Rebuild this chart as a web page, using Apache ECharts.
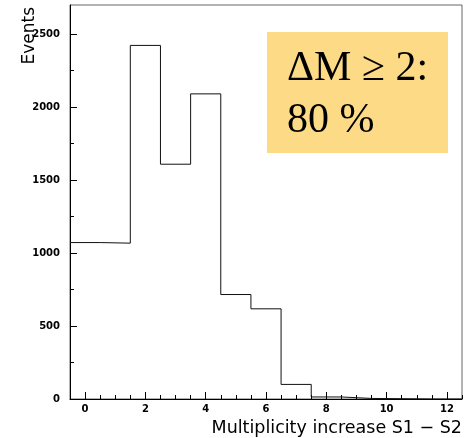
<!DOCTYPE html>
<html>
<head>
<meta charset="utf-8">
<script src="https://cdn.jsdelivr.net/npm/echarts@6/dist/echarts.min.js"></script>
<style>
  html, body { margin: 0; padding: 0; background: #fff; }
  #chart { width: 476px; height: 438px; }
</style>
</head>
<body>
<div id="chart"></div>
<script>
// histogram bins (multiplicity increase) and counts
const bins = [0, 1, 2, 3, 4, 5, 6, 7, 8, 9, 10, 11, 12];
const counts = [1072, 1068, 2423, 1609, 2091, 716, 618, 100, 14, 4, 2, 0, 0];
const xMajorTicks = [0, 2, 4, 6, 8, 10, 12];
const yMajorTicks = [0, 500, 1000, 1500, 2000, 2500];

// step points at bin edges
const stepData = bins.map((b, i) => [b - 0.5, counts[i]]);
stepData.push([bins[bins.length - 1] + 0.5, counts[counts.length - 1]]);

const xMinor = [];
for (let v = -0.5; v <= 12.5; v += 0.5) xMinor.push(v);
const yMinor = [];
for (let v = 0; v <= 2500; v += 250) yMinor.push(v);

const labelStyle = {
  fontFamily: "DejaVu Sans",
  fontWeight: "bold",
  fontSize: 10,
  color: "#000",
  formatter: (v) => String(v),
};

const chart = echarts.init(document.getElementById("chart"));
chart.setOption({
  animation: false,
  grid: {
    left: 70, right: 14, top: 5, bottom: 39,
    show: true, borderColor: "#666", borderWidth: 1,
  },
  xAxis: [
    {
      type: "value", min: -0.5, max: 12.5,
      axisLine: { onZero: false, lineStyle: { color: "#000", width: 1 } },
      axisTick: { inside: true, length: 7, customValues: xMajorTicks, lineStyle: { color: "#000" } },
      axisLabel: Object.assign({ customValues: xMajorTicks, margin: 5 }, labelStyle),
      splitLine: { show: false },
    },
    {
      type: "value", min: -0.5, max: 12.5, position: "bottom",
      axisLine: { show: false, onZero: false },
      axisTick: { inside: true, length: 4, customValues: xMinor, lineStyle: { color: "#000" } },
      axisLabel: { show: false },
      splitLine: { show: false },
    },
  ],
  yAxis: [
    {
      type: "value", min: 0, max: 2700,
      axisLine: { show: true, onZero: false, lineStyle: { color: "#000", width: 1 } },
      axisTick: { show: true, inside: true, length: 7, customValues: yMajorTicks, lineStyle: { color: "#000" } },
      axisLabel: Object.assign({ customValues: yMajorTicks, margin: 10 }, labelStyle),
      splitLine: { show: false },
    },
    {
      type: "value", min: 0, max: 2700, position: "left",
      axisLine: { show: false, onZero: false },
      axisTick: { show: true, inside: true, length: 4, customValues: yMinor, lineStyle: { color: "#000" } },
      axisLabel: { show: false },
      splitLine: { show: false },
    },
  ],
  series: [
    {
      type: "line",
      step: "end",
      data: stepData,
      symbol: "none",
      lineStyle: { color: "#111", width: 1 },
    },
  ],
  graphic: [
    {
      type: "text", x: 30, y: 7, rotation: Math.PI / 2,
      style: {
        text: "Events", fontFamily: "DejaVu Sans", fontSize: 17,
        fill: "#000", align: "right", verticalAlign: "middle",
      },
    },
    {
      type: "text", x: 462, y: 428,
      style: {
        text: "Multiplicity increase S1 \u2212 S2", fontFamily: "DejaVu Sans", fontSize: 17.5,
        fill: "#000", align: "right", verticalAlign: "middle",
      },
    },
    {
      type: "rect", shape: { x: 267, y: 32, width: 181, height: 121 },
      style: { fill: "#FDDB86" },
    },
    {
      type: "text", x: 287, y: 68.5,
      style: {
        text: "\u0394M \u2265 2:", fontFamily: "Liberation Serif", fontSize: 42,
        fill: "#000", align: "left", verticalAlign: "middle",
      },
    },
    {
      type: "text", x: 287, y: 121,
      style: {
        text: "80 %", fontFamily: "Liberation Serif", fontSize: 42,
        fill: "#000", align: "left", verticalAlign: "middle",
      },
    },
  ],
});
</script>
</body>
</html>
